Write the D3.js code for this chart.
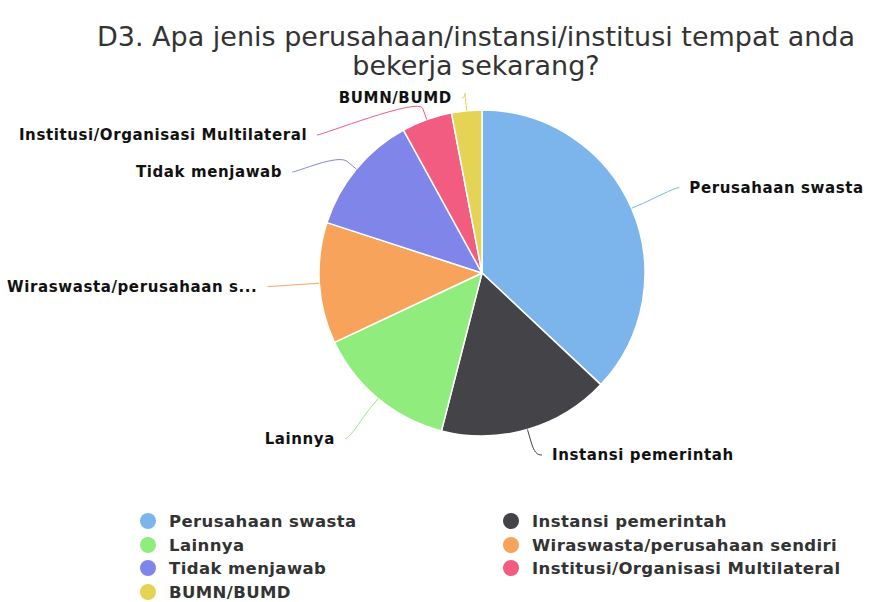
<!DOCTYPE html>
<html><head><meta charset="utf-8">
<script src="https://cdn.jsdelivr.net/npm/d3@7"></script>
<style>body{margin:0;background:#fff} svg{display:block}</style>
</head><body>
<svg id="c" width="876" height="602"></svg>
<script>
// ---- data ----
const categories = ["Perusahaan swasta","Instansi pemerintah","Lainnya","Wiraswasta/perusahaan sendiri","Tidak menjawab","Institusi/Organisasi Multilateral","BUMN/BUMD"];
const values = [37, 17, 14, 12, 12, 5, 3];
const colors = ["#7cb5ec","#434348","#90ed7d","#f7a35c","#8085e9","#f15c80","#e4d354"];
const titleLines = ["D3. Apa jenis perusahaan/instansi/institusi tempat anda","bekerja sekarang?"];

// ---- layout ----
const W = 876, H = 602;
const cx = 482, cy = 273, r = 163;
const labelR = 215, gapY = 37, yMin = 98, yMax = 455, breakOff = 12, textPad = 10, marginL = 1, marginR = 2;

const svg = d3.select("#c");
const data = categories.map((c, i) => ({name: c, v: values[i], color: colors[i]}));
const arcs = d3.pie().sort(null).value(d => d.v)(data);
const arc = d3.arc().innerRadius(0).outerRadius(r);

// title
const title = svg.append("text").attr("text-anchor", "middle")
  .style("font-family", "'DejaVu Sans', sans-serif").style("font-size", "27px").attr("fill", "#333");
titleLines.forEach((t, i) => title.append("tspan").attr("x", 476).attr("y", 46 + i * 29).text(t));

// slices
const g = svg.append("g").attr("transform", `translate(${cx},${cy})`);
g.selectAll("path.slice").data(arcs).join("path").attr("class", "slice")
  .attr("d", arc).attr("fill", d => d.data.color).attr("stroke", "#fff").attr("stroke-width", 1.5)
  .attr("stroke-linejoin", "round");

// label layout (Highcharts-like)
const pos = arcs.map(a => {
  const m = (a.startAngle + a.endAngle) / 2;
  return {a, m, left: m > Math.PI,
    nx: cx + labelR * Math.sin(m), ny: cy - labelR * Math.cos(m),
    tx: cx + r * Math.sin(m), ty: cy - r * Math.cos(m),
    bx: cx + (r + breakOff) * Math.sin(m), by: cy - (r + breakOff) * Math.cos(m)};
});
[true, false].forEach(side => {
  const s = pos.filter(p => p.left === side).sort((p, q) => p.ny - q.ny);
  let prev = -Infinity;
  s.forEach(p => { p.y = Math.max(p.ny, yMin, prev + gapY); prev = p.y; });
  let next = Infinity;
  for (let i = s.length - 1; i >= 0; i--) { s[i].y = Math.min(s[i].y, yMax, next - gapY); next = s[i].y; }
  s.forEach(p => {
    const clamped = (p.ny < yMin && p.y <= yMin + 0.5) || (p.ny > yMax && p.y >= yMax - 0.5);
    if (clamped) p.x = p.nx;
    else {
      const dy = Math.max(-labelR, Math.min(labelR, p.y - cy));
      p.x = cx + (side ? -1 : 1) * Math.sqrt(labelR * labelR - dy * dy);
    }
  });
});

const lab = svg.append("g");
lab.selectAll("path.conn").data(pos).join("path").attr("class", "conn")
  .attr("fill", "none").attr("stroke", p => p.a.data.color).attr("stroke-width", 1)
  .attr("d", p => `M${p.x},${p.y} C${p.x + (p.left ? 5 : -5)},${p.y} ${2 * p.bx - p.tx},${2 * p.by - p.ty} ${p.bx},${p.by} L${p.tx},${p.ty}`);

const texts = lab.selectAll("text.lbl").data(pos).join("text").attr("class", "lbl")
  .attr("x", p => p.left ? p.x - textPad : p.x + textPad).attr("y", p => p.y)
  .attr("dy", "0.35em").attr("text-anchor", p => p.left ? "end" : "start")
  .style("font-family", "'DejaVu Sans', sans-serif").style("font-size", "15px").style("font-weight", "bold")
  .style("letter-spacing", "0.6px")
  .attr("fill", "#111")
  .attr("stroke", "#fff").attr("stroke-width", 2).attr("paint-order", "stroke")
  .text(p => p.a.data.name);
// ellipsis if overflowing
texts.each(function(p) {
  const el = d3.select(this);
  const avail = p.left ? (p.x - textPad - marginL) : (W - marginR - p.x - textPad);
  let t = p.a.data.name;
  if (this.getComputedTextLength() > avail) {
    while (t.length > 1) {
      t = t.slice(0, -1);
      el.text(t + "...");
      if (this.getComputedTextLength() <= avail) break;
    }
  }
});

// legend
const legendCols = [148, 511];
const legendRows = [521, 545, 568, 592];
const leg = svg.append("g");
data.forEach((d, i) => {
  const col = i % 2, row = Math.floor(i / 2);
  const gi = leg.append("g").attr("transform", `translate(${legendCols[col]},${legendRows[row]})`);
  gi.append("circle").attr("r", 8).attr("fill", d.color);
  gi.append("text").attr("x", 21).attr("dy", "0.35em")
    .style("font-family", "'DejaVu Sans', sans-serif").style("font-size", "16.5px").style("font-weight", "bold")
    .style("letter-spacing", "0.4px")
    .attr("fill", "#333").text(d.name);
});
</script>
</body></html>
